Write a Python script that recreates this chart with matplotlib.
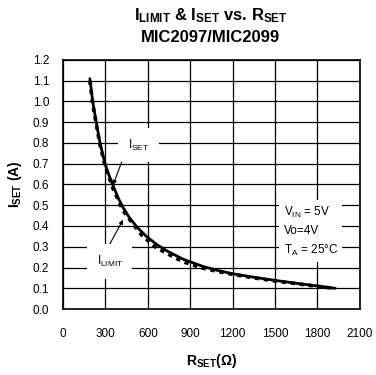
import numpy as np
import matplotlib
matplotlib.use('Agg')
import matplotlib.pyplot as plt

plt.rcParams['font.family'] = ['Liberation Sans', 'DejaVu Sans']
plt.rcParams['mathtext.fontset'] = 'custom'
plt.rcParams['mathtext.rm'] = 'Liberation Sans'
plt.rcParams['mathtext.bf'] = 'Liberation Sans:bold'

# data
r_set = [190, 210, 235, 262, 297, 325, 354, 390, 424, 470, 523, 590, 665, 740, 850,
         990, 1100, 1200, 1350, 1500, 1650, 1800, 1925]
i_set = [1.11, 1.00, 0.90, 0.80, 0.70, 0.645, 0.595, 0.535, 0.49, 0.44, 0.395, 0.35, 0.31,
         0.278, 0.24, 0.205, 0.185, 0.170, 0.153, 0.138, 0.124, 0.111, 0.100]

r_lim = [190, 210, 235, 262, 297, 354, 424, 495, 558, 650, 742, 848, 983, 1100, 1200,
         1350, 1500, 1650, 1800, 1925]
i_lim = [1.10, 0.99, 0.89, 0.79, 0.69, 0.58, 0.475, 0.41, 0.355, 0.30, 0.265, 0.228, 0.198,
         0.180, 0.167, 0.150, 0.135, 0.122, 0.109, 0.099]

x_ticks = [0, 300, 600, 900, 1200, 1500, 1800, 2100]
y_ticks = np.round(np.arange(0, 1.21, 0.1), 1)

fig = plt.figure(figsize=(3.76, 3.75), dpi=100)
ax = fig.add_axes([0.1676, 0.176, 0.7894, 0.664])

ax.plot(r_lim, i_lim, color='black', lw=2.6, ls=(0, (1.2, 1.3)), zorder=3)
ax.plot(r_set, i_set, color='black', lw=2.0, zorder=4,
        solid_joinstyle='round', solid_capstyle='round')

ax.set_xlim(0, 2100)
ax.set_ylim(0, 1.2)
ax.set_xticks(x_ticks)
ax.set_yticks(y_ticks)
ax.set_yticklabels(['%.1f' % v for v in y_ticks])
ax.grid(True, color='black', lw=0.9)
ax.set_axisbelow(True)
ax.tick_params(length=0, labelsize=8.5)
ax.tick_params(axis='x', pad=14)
ax.tick_params(axis='y', pad=10)
for s in ax.spines.values():
    s.set_linewidth(1.2)

ax.set_xlabel(r'$\mathbf{R_{SET}}$' + r'$\mathbf{(\Omega)}$', fontsize=10, labelpad=8)
ax.set_ylabel(r'$\mathbf{I_{SET}}$' + ' (A)', fontsize=10, fontweight='bold', labelpad=6)

fig.text(0.56, 0.958, r'$\mathbf{I_{LIMIT}}$ & $\mathbf{I_{SET}}$ vs. $\mathbf{R_{SET}}$',
         ha='center', va='center', fontsize=12, fontweight='bold')
fig.text(0.56, 0.9, 'MIC2097/MIC2099', ha='center', va='center', fontsize=12, fontweight='bold')

ax.annotate(r'$\mathrm{I_{SET}}$', xy=(354, 0.598), xytext=(460, 0.79), fontsize=8.5,
            ha='left', va='center',
            bbox=dict(facecolor='white', edgecolor='none', pad=7),
            arrowprops=dict(arrowstyle='-|>', color='black', lw=0.8, mutation_scale=6,
                            shrinkA=0, shrinkB=0, relpos=(0, 0.5)))
ax.annotate(r'$\mathrm{I_{LIMIT}}$', xy=(425, 0.43), xytext=(330, 0.23), fontsize=8.5,
            ha='center', va='center',
            bbox=dict(facecolor='white', edgecolor='none', pad=7),
            arrowprops=dict(arrowstyle='-|>', color='black', lw=0.8, mutation_scale=6,
                            shrinkA=0, shrinkB=0, relpos=(0.3, 1)))

ax.text(1560, 0.375, r'$\mathrm{V_{IN}}$ = 5V' + '\n' + 'Vo=4V' + '\n' + r'$\mathrm{T_A}$ = 25°C',
        fontsize=8.5, ha='left', va='center', linespacing=1.55,
        bbox=dict(facecolor='white', edgecolor='none', pad=3), zorder=5)

fig.savefig('out.png', dpi=100)
